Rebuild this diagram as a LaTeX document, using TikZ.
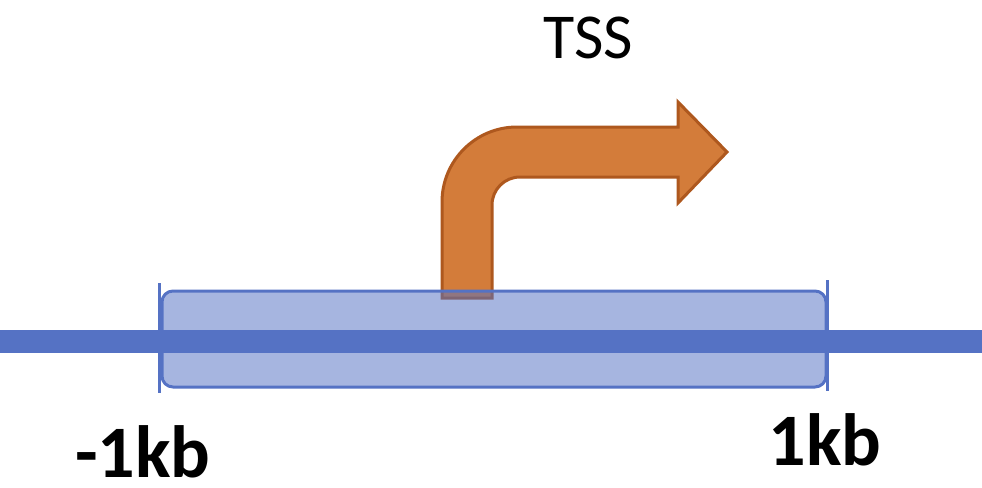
\documentclass[tikz,border=0pt]{standalone}
\usepackage{fontspec}
\setmainfont{Carlito}
\definecolor{dnablue}{RGB}{85,114,196}
\definecolor{arrowfill}{RGB}{211,124,58}
\definecolor{arrowline}{RGB}{174,88,30}
\tikzset{
  tssarrow/.style={fill=arrowfill, draw=arrowline, line width=3pt, line join=miter},
  regionbox/.style={fill=dnablue, fill opacity=0.52, draw=dnablue, draw opacity=1, line width=3pt, rounded corners=11pt},
  dnaline/.style={draw=dnablue, line width=23pt},
  tickline/.style={draw=dnablue, line width=3pt},
  biglabel/.style={font=\fontsize{74}{78}\selectfont\bfseries, anchor=base, inner sep=0pt, text depth=0pt},
  tsslabel/.style={font=\fontsize{64}{70}\selectfont, anchor=base, inner sep=0pt}
}
\begin{document}
\begin{tikzpicture}[x=1pt,y=-1pt]
\useasboundingbox (0,0) rectangle (982,487);
% TSS bent arrow
\draw[tssarrow] (442,298) -- (442,202) arc[start angle=180, end angle=270, radius=75]
  -- (678,127) -- (678,102) -- (727,152) -- (678,203) -- (678,177) -- (520,177)
  arc[start angle=270, end angle=180, radius=28] -- (492,298) -- cycle;
% region box
\node[regionbox, minimum width=664pt, minimum height=96pt, inner sep=0pt] (box) at (494,339) {};
% DNA line
\coordinate (l0) at (0,341);
\coordinate (l1) at (982,341);
\draw[dnaline] (l0) -- (l1);
% ticks
\coordinate (ta) at (159,283);
\coordinate (tb) at (159,393);
\coordinate (tc) at (827,280);
\coordinate (td) at (827,391);
\draw[tickline] (ta) -- (tb);
\draw[tickline] (tc) -- (td);
% labels
\node[tsslabel] (tss) at (588,59) {TSS};
\node[biglabel] (minus) at (143,477) {-1kb};
\node[biglabel] (plus) at (825,465) {1kb};
\end{tikzpicture}
\end{document}
